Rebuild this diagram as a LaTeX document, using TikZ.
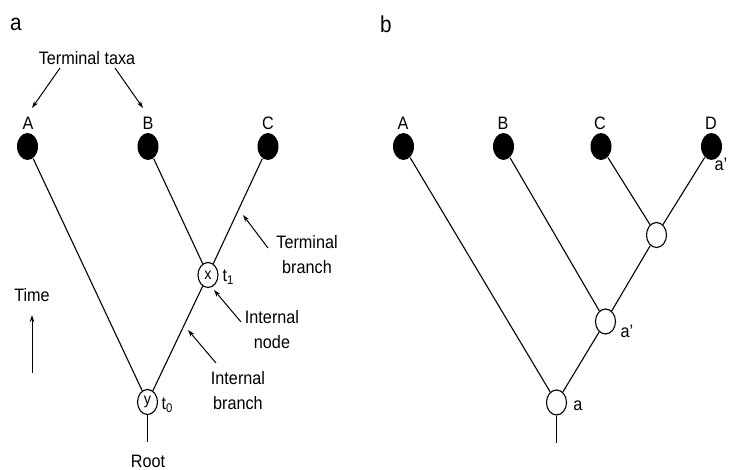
\documentclass[tikz,border=0pt]{standalone}
\usepackage{fontspec}
\setmainfont{Liberation Sans}[FakeStretch=0.9]
\usetikzlibrary{arrows.meta,shapes.geometric}
\begin{document}
\begin{tikzpicture}[x=1pt,y=-1pt,
  font=\fontsize{18}{21}\selectfont,
  line width=1.1pt,
  taxon/.style={ellipse, fill=black, minimum width=21pt, minimum height=27pt, inner sep=0pt},
  anc/.style={ellipse, draw, fill=white, minimum width=20pt, minimum height=25pt, inner sep=0pt, line width=1.1pt, font=\fontsize{16}{18}\selectfont},
  lab/.style={inner sep=0pt},
  panel/.style={inner sep=0pt, font=\fontsize{23}{25}\selectfont},
  pointer/.style={-{Stealth[length=7pt,width=4.5pt]}, line width=1pt}]
\useasboundingbox (0,0) rectangle (732,470);

% ---------- panel a ----------
\node[panel] (pa) at (16,24) {a};
\node[lab] (tt) at (87,58) {Terminal taxa};
\coordinate (ttl1) at (60,68);  \coordinate (ttl2) at (32,108);
\coordinate (ttr1) at (115,68); \coordinate (ttr2) at (143,108);
\draw[pointer] (ttl1) -- (ttl2);
\draw[pointer] (ttr1) -- (ttr2);

\node[lab] (Al) at (28,123) {A};
\node[lab] (Bl) at (148,123) {B};
\node[lab] (Cl) at (268,123) {C};
\node[taxon] (A) at (27.5,146.5) {};
\node[taxon] (B) at (148,146.5) {};
\node[taxon] (C) at (268,146.5) {};

\node[anc] (x) at (208,275) {x};
\node[anc] (y) at (147.5,402) {y};
\node[lab, anchor=west] (t1) at (222,277) {t\textsubscript{1}};
\node[lab, anchor=west] (t0) at (161,405) {t\textsubscript{0}};

\draw (A) -- (y);
\draw (B) -- (x);
\draw (C) -- (x);
\draw (x) -- (y);
\coordinate (rootend) at (147.5,442);
\draw (y) -- (rootend);
\node[lab] (root) at (148,461) {Root};

% annotations
\node[lab, align=center] (tb) at (307,255) {Terminal\\[4pt]branch};
\coordinate (tb1) at (268,248); \coordinate (tb2) at (243,215);
\draw[pointer] (tb1) -- (tb2);

\node[lab, align=center] (in) at (272,330) {Internal\\[4pt]node};
\coordinate (in1) at (241,322); \coordinate (in2) at (214,290);
\draw[pointer] (in1) -- (in2);

\node[lab, align=center] (ib) at (238,391) {Internal\\[4pt]branch};
\coordinate (ib1) at (216,363); \coordinate (ib2) at (188,330);
\draw[pointer] (ib1) -- (ib2);

\node[lab] (time) at (32,295) {Time};
\coordinate (tm1) at (32,373); \coordinate (tm2) at (32,315);
\draw[pointer] (tm1) -- (tm2);

% ---------- panel b ----------
\node[panel] (pb) at (386,24) {b};
\node[lab] (bAl) at (403,123) {A};
\node[lab] (bBl) at (503,123) {B};
\node[lab] (bCl) at (600,123) {C};
\node[lab] (bDl) at (711,123) {D};
\node[taxon] (bA) at (403.5,146.5) {};
\node[taxon] (bB) at (503.5,146.5) {};
\node[taxon] (bC) at (601,146.5) {};
\node[taxon] (bD) at (711.5,146.5) {};
\node[lab, anchor=west] (aD) at (714,164) {a'};

\node[anc] (n3) at (656.5,235) {};
\node[anc] (n2) at (605.5,321.5) {};
\node[anc] (n1) at (556.5,402.5) {};
\node[lab] (a2) at (627,331) {a'};
\node[lab] (a1) at (578,406) {a};

\draw (bA) -- (n1);
\draw (bB) -- (n2);
\draw (bC) -- (n3);
\draw (bD) -- (n3);
\draw (n3) -- (n2);
\draw (n2) -- (n1);
\coordinate (broot) at (556.5,443);
\draw (n1) -- (broot);
\end{tikzpicture}
\end{document}
